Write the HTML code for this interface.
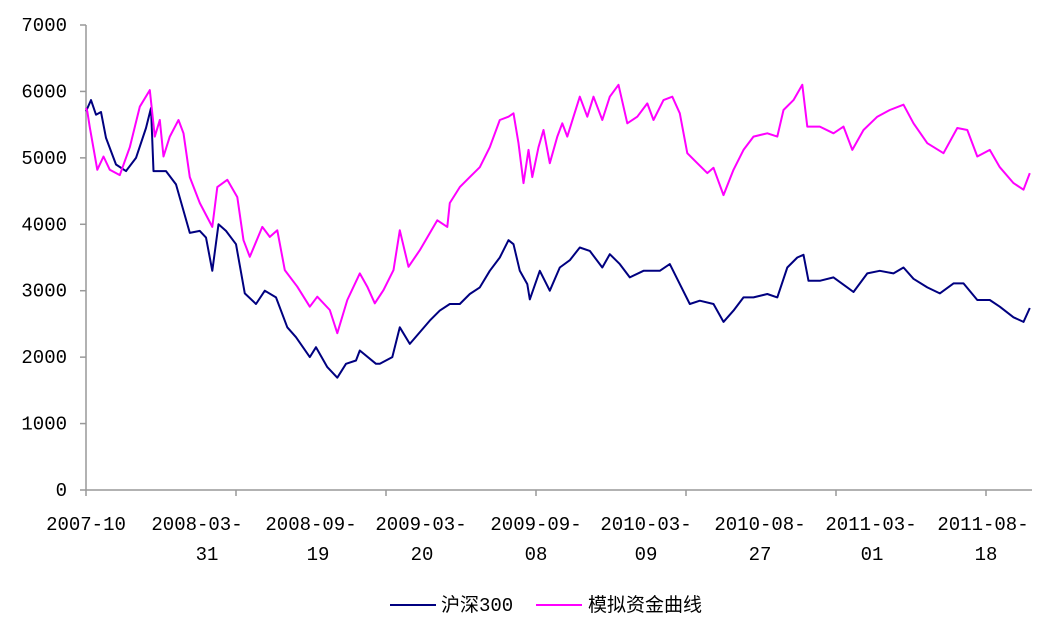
<!DOCTYPE html>
<html><head><meta charset="utf-8"><style>
body{margin:0;background:#fff;}
svg text{font-family:"Liberation Mono","Noto Sans CJK SC",monospace;font-size:19px;fill:#000;}
</style></head><body>
<svg id="chart" width="1047" height="621" xmlns="http://www.w3.org/2000/svg">
<g id="axes"></g>
<g id="series"></g>
<g id="legend">
<line x1="390" y1="605" x2="436" y2="605" stroke="#000080" stroke-width="2"/>
<text x="441" y="611">沪深300</text>
<line x1="536" y1="605" x2="582" y2="605" stroke="#ff00ff" stroke-width="2"/>
<text x="588" y="611">模拟资金曲线</text>
</g>
</svg>
<script>
const yTicks=[0,1000,2000,3000,4000,5000,6000,7000];
const xTickDays=[0,120,240,360,480,600,720];
const xTickLabels=[["2007-10",""],["2008-03-","31"],["2008-09-","19"],["2009-03-","20"],["2009-09-","08"],["2010-03-","09"],["2010-08-","27"],["2011-03-","01"],["2011-08-","18"]];
const hsDays=[0,4,8,12,16,24,32,40,48,52,54,64,72,83,91,96,101,106,112,120,127,136,143,152,161,168,179,184,193,201,208,216,219,232,235,245,251,259,275,283,291,299,307,315,323,331,338,342,347,353,355,363,371,379,387,395,403,413,419,427,435,446,459,467,475,483,491,502,510,518,526,534,545,553,561,569,574,578,587,598,609,614,625,635,646,654,662,673,683,694,702,713,723,731,742,750,755];
const hsValues=[5700,5870,5650,5690,5300,4900,4800,5000,5450,5750,4800,4800,4600,3870,3900,3800,3300,4000,3900,3700,2960,2800,3000,2900,2450,2300,2000,2150,1850,1690,1900,1950,2100,1900,1900,2000,2450,2200,2550,2700,2800,2800,2950,3050,3300,3500,3760,3700,3300,3100,2870,3300,3000,3350,3460,3650,3600,3350,3550,3400,3200,3300,3300,3400,3100,2800,2850,2800,2530,2700,2900,2900,2950,2900,3350,3500,3540,3150,3150,3200,3050,2980,3260,3300,3260,3350,3180,3050,2960,3110,3110,2860,2860,2760,2600,2530,2740];
const mnDays=[0,1,3,9,14,19,27,35,43,51,55,59,62,67,74,78,83,91,101,105,113,121,126,131,141,147,153,159,169,179,185,195,201,209,219,225,231,238,246,251,258,267,281,289,291,299,307,315,323,331,338,342,346,350,354,357,362,366,371,377,381,385,390,395,401,406,413,419,426,433,441,449,454,462,469,475,481,489,497,502,510,518,526,534,545,553,558,566,573,577,587,598,606,613,622,633,643,654,662,673,686,697,705,713,723,731,742,750,755];
const mnValues=[5750,5700,5460,4820,5020,4820,4740,5160,5770,6020,5320,5570,5020,5320,5570,5370,4710,4320,3960,4560,4670,4410,3760,3510,3960,3810,3910,3310,3060,2760,2910,2710,2360,2860,3260,3060,2810,3010,3310,3910,3360,3610,4060,3960,4320,4560,4710,4860,5160,5570,5620,5670,5220,4620,5120,4710,5160,5420,4920,5320,5520,5320,5620,5920,5620,5920,5570,5920,6100,5520,5620,5820,5570,5870,5920,5670,5070,4920,4770,4850,4440,4820,5120,5320,5370,5320,5720,5870,6100,5470,5470,5370,5470,5120,5420,5620,5720,5800,5520,5220,5070,5450,5420,5020,5120,4860,4620,4520,4770];

const NS="http://www.w3.org/2000/svg";
const X0=86,Y0=490,YTOP=25,PXDAY=1.25,YMAX=7000;
function xs(d){return X0+d*PXDAY;}
function ys(v){return Y0-(v/YMAX)*(Y0-YTOP);}
function mk(tag,attrs,parent){const e=document.createElementNS(NS,tag);for(const k in attrs)e.setAttribute(k,attrs[k]);parent.appendChild(e);return e;}
const axes=document.getElementById('axes');
const ya=mk('line',{x1:X0,y1:YTOP,x2:X0,y2:Y0,stroke:'#999','stroke-width':1.5},axes);


const xa=mk('line',{x1:X0,y1:Y0,x2:1032,y2:Y0,stroke:'#999','stroke-width':1.5},axes);


yTicks.forEach(v=>{
  const t=mk('line',{x1:X0-6,y1:ys(v),x2:X0,y2:ys(v),stroke:'#999','stroke-width':1.5},axes);
  
  
  const l=mk('text',{x:X0-19,y:ys(v)+6,'text-anchor':'end'},axes);
  l.textContent=v;
  
  
});
xTickDays.forEach(d=>{
  const x=xs(d);
  const t=mk('line',{x1:x,y1:Y0,x2:x,y2:Y0+6,stroke:'#999','stroke-width':1.5},axes);
  
  
});
const X1POS=[86,197,311,421,536,646,760,871,983];
const X2POS=[86,207,318,422,536,646,760,872,986];
xTickLabels.forEach((lb,i)=>{
  const a=mk('text',{x:X1POS[i],y:530,'text-anchor':'middle'},axes);
  a.textContent=lb[0];
  
  
  if(lb[1]){
    const b=mk('text',{x:X2POS[i],y:560,'text-anchor':'middle'},axes);
    b.textContent=lb[1];
    
    
  }
});
const sg=document.getElementById('series');
function line(days,vals,color,name){
  const d=days.map((dd,i)=>(i?'L':'M')+xs(dd).toFixed(1)+' '+ys(vals[i]).toFixed(1)).join(' ');
  const p=mk('path',{d:d,fill:'none',stroke:color,'stroke-width':2,'stroke-linejoin':'round'},sg);
  
  
}
line(hsDays,hsValues,'#000080','hs300-line');
line(mnDays,mnValues,'#ff00ff','simulated-capital-line');
</script>
</body></html>
